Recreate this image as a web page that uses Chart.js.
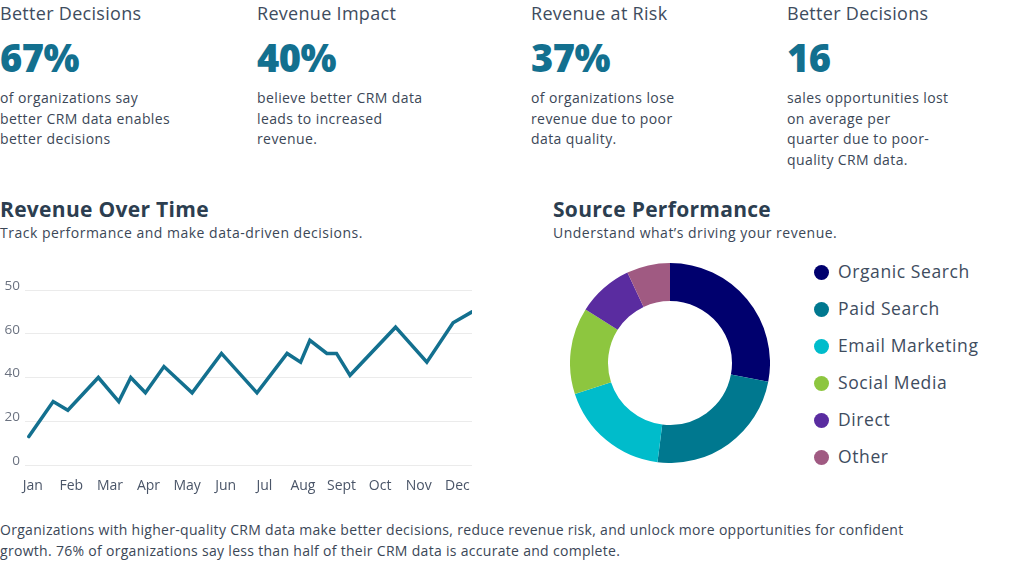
<!DOCTYPE html>
<html>
<head>
<meta charset="utf-8">
<script src="https://cdn.jsdelivr.net/npm/chart.js@4.4.1/dist/chart.umd.min.js"></script>
<style>
  html, body { margin: 0; padding: 0; background: #fff; }
  body { width: 1024px; height: 561px; position: relative; overflow: hidden;
         font-family: "Open Sans", sans-serif; color: #3b4757; }
  .abs { position: absolute; white-space: nowrap; }
  .stat-title { font-size: 18px; line-height: 24px; color: #3e4c5e; letter-spacing: 0.3px; }
  .stat-num { font-size: 38px; line-height: 44px; font-weight: 800; color: #13708f; letter-spacing: -0.5px; }
  .stat-desc { font-size: 14px; line-height: 20.5px; color: #3b4757; letter-spacing: 0.4px; }
  .sec-title { font-size: 21px; line-height: 26px; font-weight: 700; color: #2c3e50; letter-spacing: 0.3px; }
  .sec-sub { font-size: 14px; line-height: 18px; color: #3b4757; letter-spacing: 0.5px; }
  .legend-item { position: absolute; left: 814px; height: 24px; line-height: 24px;
                 font-size: 17.5px; color: #3e4c5e; white-space: nowrap; letter-spacing: 0.6px; }
  .legend-item span { display: inline-block; width: 15px; height: 15px; border-radius: 50%;
                      vertical-align: -2px; margin-right: 9px; }
  .footer { font-size: 14px; line-height: 21px; color: #3b4757; letter-spacing: 0.3px; }
</style>
</head>
<body>

<div class="abs stat-title" style="left:0;top:1px">Better Decisions</div>
<div class="abs stat-num" style="left:0;top:35px">67%</div>
<div class="abs stat-desc" style="left:0;top:88px">of organizations say<br>better CRM data enables<br>better decisions</div>

<div class="abs stat-title" style="left:257px;top:1px">Revenue Impact</div>
<div class="abs stat-num" style="left:257px;top:35px">40%</div>
<div class="abs stat-desc" style="left:257px;top:88px">believe better CRM data<br>leads to increased<br>revenue.</div>

<div class="abs stat-title" style="left:531px;top:1px">Revenue at Risk</div>
<div class="abs stat-num" style="left:531px;top:35px">37%</div>
<div class="abs stat-desc" style="left:531px;top:88px">of organizations lose<br>revenue due to poor<br>data quality.</div>

<div class="abs stat-title" style="left:787px;top:1px">Better Decisions</div>
<div class="abs stat-num" style="left:787px;top:35px">16</div>
<div class="abs stat-desc" style="left:787px;top:88px">sales opportunities lost<br>on average per<br>quarter due to poor-<br>quality CRM data.</div>

<div class="abs sec-title" style="left:0;top:196px">Revenue Over Time</div>
<div class="abs sec-sub" style="left:0;top:224px">Track performance and make data-driven decisions.</div>

<div class="abs sec-title" style="left:553px;top:196px">Source Performance</div>
<div class="abs sec-sub" style="left:553px;top:224px">Understand what’s driving your revenue.</div>

<div class="abs" style="left:0;top:275px;width:480px;height:225px">
  <canvas id="lineChart"></canvas>
</div>

<div class="abs" style="left:570px;top:263px;width:200px;height:200px">
  <canvas id="donutChart"></canvas>
</div>
<div id="legend"></div>

<div class="abs footer" style="left:0;top:519px">Organizations with higher-quality CRM data make better decisions, reduce revenue risk, and unlock more opportunities for confident<br>growth. 76% of organizations say less than half of their CRM data is accurate and complete.</div>

<script>
// revenue line: x is position in months (0 = Jan), y is revenue
const monthLabels = ["Jan", "Feb", "Mar", "Apr", "May", "Jun", "Jul", "Aug", "Sept", "Oct", "Nov", "Dec"];
const revenueX = [-0.1, 0.53, 0.91, 1.7, 2.23, 2.54, 2.92, 3.4, 4.13, 4.89, 5.81, 6.59, 6.94, 7.18, 7.62, 7.87, 8.22, 9.4, 10.21, 10.89, 11.38];
const revenueY = [13, 29, 25, 40, 29, 40, 33, 45, 33, 51, 33, 51, 47, 57, 51, 51, 41, 63, 47, 65, 70];
const yTickValues = [0, 20, 40, 60, 80];
const yTickLabels = ["0", "20", "40", "60", "50"];

// source performance
const sourceLabels = ["Organic Search", "Paid Search", "Email Marketing", "Social Media", "Direct", "Other"];
const sourceValues = [28, 24, 18, 14, 9, 7];
const sourceColors = ["#00006e", "#00788f", "#00bccb", "#8dc63f", "#5a2ca0", "#a05a82"];

window.onload = () => {
  const points = revenueX.map((x, i) => ({ x: x, y: revenueY[i] }));

  const lineCtx = document.querySelector("#lineChart").getContext("2d");
  new Chart(lineCtx, {
    type: "line",
    data: {
      datasets: [
        {
          data: points,
          borderColor: "#13708f",
          borderWidth: 3.5,
          borderCapStyle: "round",
          borderJoinStyle: "miter",
          pointRadius: 0,
          tension: 0,
          fill: false,
        },
      ],
    },
    options: {
      responsive: true,
      maintainAspectRatio: false,
      animation: false,
      layout: { padding: { top: 15, right: 8, left: 0, bottom: 0 } },
      plugins: { legend: { display: false }, tooltip: { enabled: false } },
      scales: {
        x: {
          type: "linear",
          min: -0.2,
          max: 11.38,
          grid: { display: false },
          border: { display: false },
          afterBuildTicks: (scale) => {
            scale.ticks = monthLabels.map((m, i) => ({ value: i }));
          },
          afterFit: (scale) => {
            scale.height = 35;
          },
          ticks: {
            autoSkip: false,
            maxRotation: 0,
            padding: 5,
            color: "#4a5568",
            font: { family: "Open Sans", size: 14 },
            callback: (value) => monthLabels[value],
          },
        },
        y: {
          min: 0,
          max: 80,
          grid: { color: "#ebebeb", drawTicks: false, lineWidth: 1 },
          border: { display: false },
          afterBuildTicks: (scale) => {
            scale.ticks = yTickValues.map((v) => ({ value: v }));
          },
          afterFit: (scale) => {
            scale.width = 25;
          },
          ticks: {
            padding: 5,
            labelOffset: -4,
            color: "#6b7280",
            font: { family: "Open Sans", size: 13.5 },
            callback: (value) => yTickLabels[yTickValues.indexOf(value)],
          },
        },
      },
    },
  });

  const donutCtx = document.querySelector("#donutChart").getContext("2d");
  const donut = new Chart(donutCtx, {
    type: "doughnut",
    data: {
      labels: sourceLabels,
      datasets: [
        {
          data: sourceValues,
          backgroundColor: sourceColors,
          borderWidth: 0,
        },
      ],
    },
    options: {
      responsive: true,
      maintainAspectRatio: false,
      animation: false,
      cutout: "62%",
      plugins: { legend: { display: false }, tooltip: { enabled: false } },
    },
  });

  // html legend built from the chart's own labels
  const items = donut.options.plugins.legend.labels.generateLabels(donut);
  let html = "";
  items.forEach((item, i) => {
    html +=
      "<div class='legend-item' style='top:" + (259 + i * 37) + "px'>" +
      "<span style='background:" + item.fillStyle + "'></span>" +
      item.text + "</div>";
  });
  document.querySelector("#legend").innerHTML = html;
};
</script>
</body>
</html>
